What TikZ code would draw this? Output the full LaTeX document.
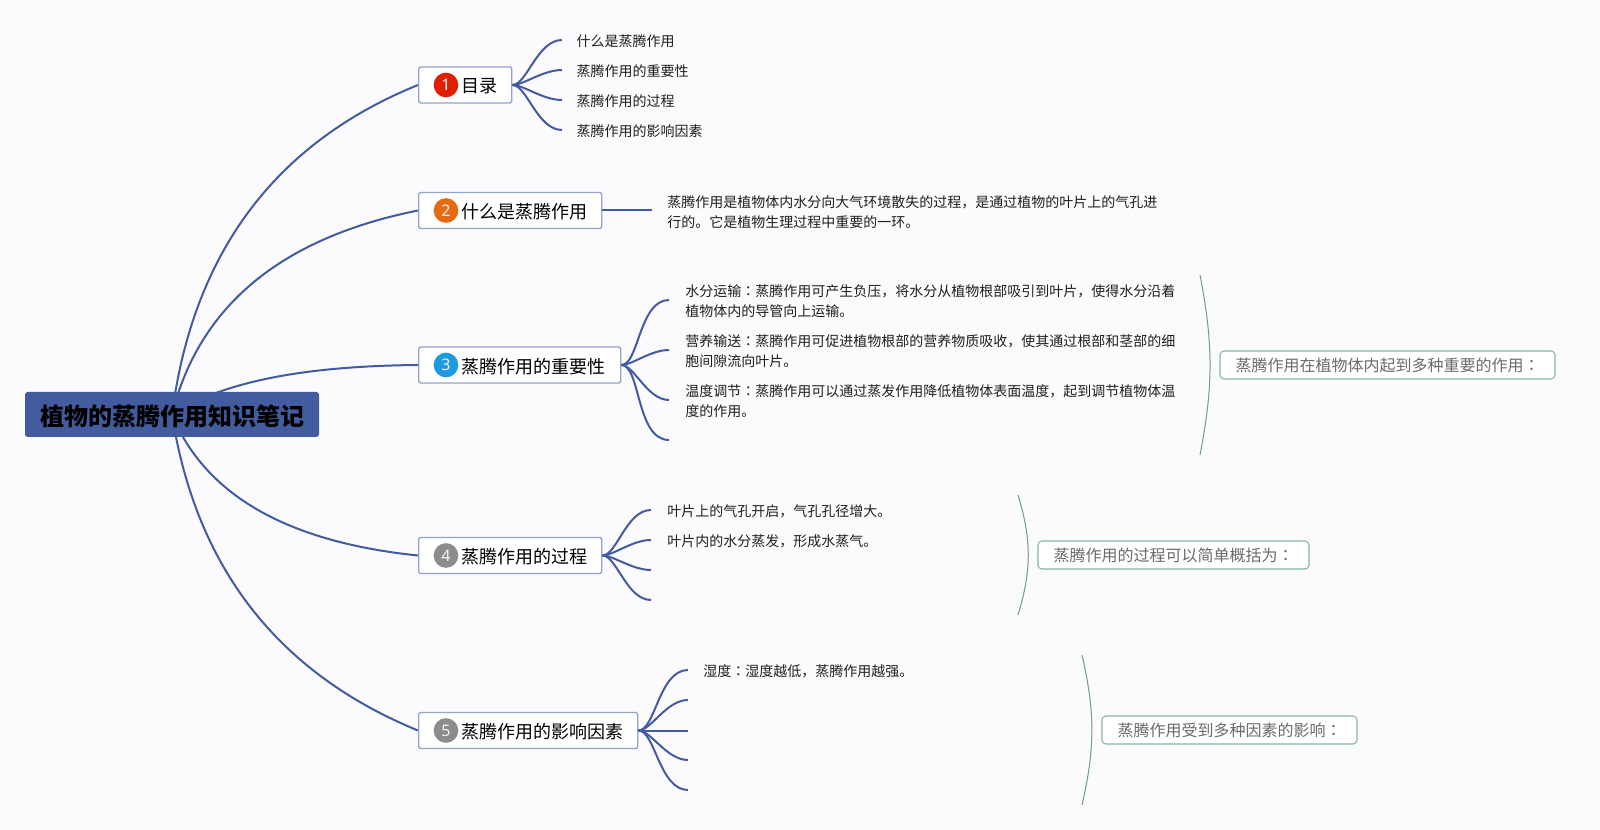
\documentclass[tikz,border=0pt]{standalone}
\usepackage{fontspec}
\setmainfont{Noto Sans CJK SC}
\newfontfamily\digitfont{Noto Sans}
\newfontfamily\colonfont{Noto Sans CJK JP}
\usetikzlibrary{positioning, backgrounds}
\definecolor{mapback}{HTML}{FBFBFD}
\definecolor{mapblue}{HTML}{435B9F}
\definecolor{mapedge}{HTML}{94A3CA}
\definecolor{mapteal}{HTML}{86B5A6}
\definecolor{badgered}{HTML}{E01E00}
\definecolor{badgeorange}{HTML}{E56B12}
\definecolor{badgeblue}{HTML}{1E9AE0}
\definecolor{badgegray}{HTML}{8C8C8E}
\newcommand{\lowered}[1]{\raisebox{-1.1pt}[\height][\depth]{#1}}
\newcommand{\topictext}[1]{\hspace*{21pt}\lowered{#1}}
\newcommand{\cjkcolon}{{\colonfont ：}}

\begin{document}
\begin{tikzpicture}[
  x=0.75pt, y=-0.75pt,
  root/.style = {fill=mapblue, rounded corners=2pt, minimum width=220.5pt, minimum height=33.75pt, inner sep=0pt, font=\fontsize{18}{22}\selectfont\bfseries},
  topic/.style = {draw=mapedge, line width=1.1pt, fill=white, rounded corners=1.2pt, anchor=west, minimum height=27pt, inner xsep=11.25pt, inner ysep=0pt, align=left, text width=#1, font=\fontsize{13.5}{16}\selectfont},
  badge/.style = {circle, fill=#1, minimum size=18.5pt, inner sep=0pt, anchor=center, text=white!90!gray, font=\digitfont\fontsize{12}{14}\selectfont},
  leaf/.style = {inner sep=0pt, yshift=-0.9pt, align=left, text=black!88, font=\fontsize{10.5}{15}\selectfont},
  summary/.style = {draw=mapteal, line width=0.8pt, fill=white, rounded corners=3pt, minimum height=21pt, inner sep=0pt, text=black!58, font=\fontsize{12}{14}\selectfont},
  trunk/.style = {mapblue, line width=1.5pt},
  branch/.style = {mapblue, line width=1.5pt, out=0, in=180, out looseness=0.55, in looseness=0.95},
  bracket/.style = {mapteal!85!black, line width=0.75pt}
  ]

\useasboundingbox (0,0) rectangle (1600,830);

% Centre
\node[root] (title) at (172,414.5) {\lowered{植物的蒸腾作用知识笔记}};

% Topics
\node[topic=47.25pt] (mulu) at (418,85) {\topictext{目录}};
\node[topic=114.75pt] (what) at (418,210.5) {\topictext{什么是蒸腾作用}};
\node[topic=129pt] (importance) at (418,365) {\topictext{蒸腾作用的重要性}};
\node[topic=114.75pt] (process) at (418,555.5) {\topictext{蒸腾作用的过程}};
\node[topic=141.75pt] (factors) at (418,730.5) {\topictext{蒸腾作用的影响因素}};

% Numbered badges
\node[right=21pt of mulu.west, badge=badgered] (one) {1};
\node[right=21pt of what.west, badge=badgeorange] (two) {2};
\node[right=21pt of importance.west, badge=badgeblue] (three) {3};
\node[right=21pt of process.west, badge=badgegray] (four) {4};
\node[right=21pt of factors.west, badge=badgegray] (five) {5};

% Branch ends
\coordinate (m1) at (562,40);
\coordinate (m2) at (562,70);
\coordinate (m3) at (562,100);
\coordinate (m4) at (562,130);
\coordinate (w1) at (652,210.5);
\coordinate (i1) at (669,300);
\coordinate (i2) at (669,350);
\coordinate (i3) at (669,400);
\coordinate (i4) at (669,440);
\coordinate (p1) at (651,510);
\coordinate (p2) at (651,540);
\coordinate (p3) at (651,570);
\coordinate (p4) at (651,600);
\coordinate (f1) at (688,670);
\coordinate (f2) at (688,700);
\coordinate (f3) at (688,730.5);
\coordinate (f4) at (688,760);
\coordinate (f5) at (688,790);

% Leaves
\node[leaf, right=10.75pt of m1] (m1text) {什么是蒸腾作用};
\node[leaf, right=10.75pt of m2] (m2text) {蒸腾作用的重要性};
\node[leaf, right=10.75pt of m3] (m3text) {蒸腾作用的过程};
\node[leaf, right=10.75pt of m4] (m4text) {蒸腾作用的影响因素};
\node[leaf, right=11.25pt of w1] (w1text) {蒸腾作用是植物体内水分向大气环境散失的过程，是通过植物的叶片上的气孔进\\行的。它是植物生理过程中重要的一环。};
\node[leaf, right=12pt of i1] (i1text) {水分运输\cjkcolon 蒸腾作用可产生负压，将水分从植物根部吸引到叶片，使得水分沿着\\植物体内的导管向上运输。};
\node[leaf, right=12pt of i2] (i2text) {营养输送\cjkcolon 蒸腾作用可促进植物根部的营养物质吸收，使其通过根部和茎部的细\\胞间隙流向叶片。};
\node[leaf, right=12pt of i3] (i3text) {温度调节\cjkcolon 蒸腾作用可以通过蒸发作用降低植物体表面温度，起到调节植物体温\\度的作用。};
\node[leaf, right=12pt of p1] (p1text) {叶片上的气孔开启，气孔孔径增大。};
\node[leaf, right=12pt of p2] (p2text) {叶片内的水分蒸发，形成水蒸气。};
\node[leaf, right=11.25pt of f1] (f1text) {湿度\cjkcolon 湿度越低，蒸腾作用越强。};

% Summaries
\coordinate (b3a) at (1200,275);
\coordinate (b3b) at (1200,455);
\coordinate (b4a) at (1018,495);
\coordinate (b4b) at (1018,615);
\coordinate (b5a) at (1082,655);
\coordinate (b5b) at (1082,805);
\node[summary, minimum width=251.25pt] (s3) at (1387.5,365) {蒸腾作用在植物体内起到多种重要的作用\cjkcolon};
\node[summary, minimum width=203.25pt] (s4) at (1173.5,555) {蒸腾作用的过程可以简单概括为\cjkcolon};
\node[summary, minimum width=191.25pt] (s5) at (1229.5,730) {蒸腾作用受到多种因素的影响\cjkcolon};

\draw[bracket] (b3a) to[bend left=11] (b3b);
\draw[bracket] (b4a) to[bend left=17] (b4b);
\draw[bracket] (b5a) to[bend left=13] (b5b);

% Connectors
\begin{scope}[on background layer]
\fill[mapback] (0,0) rectangle (1600,830);
\draw[trunk] (title.center) .. controls (193,253) and (275,143) .. (mulu.west);
\draw[trunk] (title.center) .. controls (199,306) and (281,238) .. (what.west);
\draw[trunk] (title.center) .. controls (224,381) and (306,366) .. (importance.west);
\draw[trunk] (title.center) .. controls (205,495) and (287,542) .. (process.west);
\draw[trunk] (title.center) .. controls (196,568) and (278,673) .. (factors.west);
\end{scope}

\draw[branch] (mulu.east) to (m1);
\draw[branch] (mulu.east) to (m2);
\draw[branch] (mulu.east) to (m3);
\draw[branch] (mulu.east) to (m4);
\draw[branch] (what.east) to (w1);
\draw[branch] (importance.east) to (i1);
\draw[branch] (importance.east) to (i2);
\draw[branch] (importance.east) to (i3);
\draw[branch] (importance.east) to (i4);
\draw[branch] (process.east) to (p1);
\draw[branch] (process.east) to (p2);
\draw[branch] (process.east) to (p3);
\draw[branch] (process.east) to (p4);
\draw[branch] (factors.east) to (f1);
\draw[branch] (factors.east) to (f2);
\draw[branch] (factors.east) to (f3);
\draw[branch] (factors.east) to (f4);
\draw[branch] (factors.east) to (f5);
\end{tikzpicture}
\end{document}
